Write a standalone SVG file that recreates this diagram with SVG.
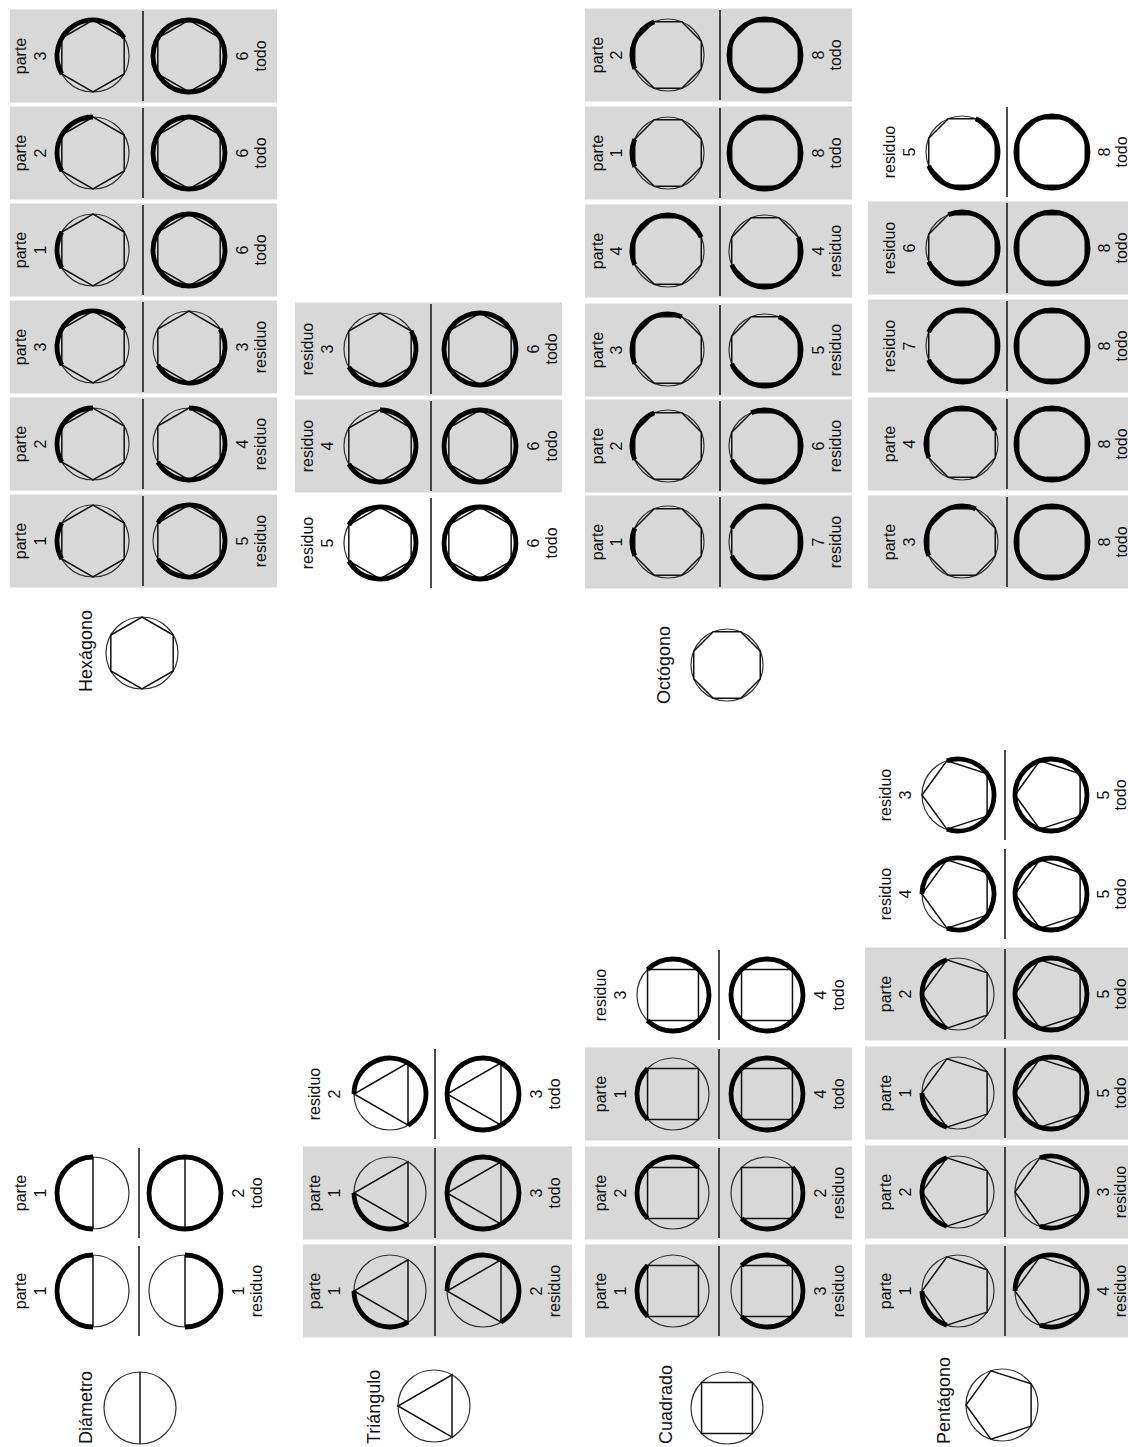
<svg xmlns="http://www.w3.org/2000/svg" xmlns:xlink="http://www.w3.org/1999/xlink" width="1128" height="1447" viewBox="0 0 1128 1447">
<defs>
<style>
.c{fill:none;stroke:#333;stroke-width:1.2}
.p{fill:none;stroke:#111;stroke-width:1.5}
.k{fill:none;stroke:#000;stroke-width:4.8}
.s{stroke:#111;stroke-width:1.5}
.g{fill:#d8d8d8}
.t{font-family:"Liberation Sans",Arial,sans-serif;font-size:16px;fill:#111;text-anchor:middle}
.r{font-family:"Liberation Sans",Arial,sans-serif;font-size:18px;fill:#111}
</style>
<circle id="ci" r="36" class="c"/>
<circle id="full" r="36" class="k"/>
<g id="bD"><use href="#ci"/><line class="p" x1="0" y1="-36" x2="0" y2="36"/></g>
<g id="bT"><use href="#ci"/><polygon class="p" points="18,31.177 -36,0 18,-31.177"/></g>
<g id="bC"><use href="#ci"/><polygon class="p" points="25.456,25.456 -25.456,25.456 -25.456,-25.456 25.456,-25.456"/></g>
<g id="bP"><use href="#ci"/><polygon class="p" points="29.124,21.16 -11.125,34.238 -36,0 -11.125,-34.238 29.124,-21.16"/></g>
<g id="bH"><use href="#ci"/><polygon class="p" points="31.177,18 0,36 -31.177,18 -31.177,-18 0,-36 31.177,-18"/></g>
<g id="bO"><use href="#ci"/><polygon class="p" points="33.26,13.776 13.776,33.26 -13.776,33.26 -33.26,13.776 -33.26,-13.776 -13.776,-33.26 13.776,-33.26 33.26,-13.776"/></g>
<path id="a45" class="k" d="M36 0A36 36 0 0 1 25.456 25.456"/>
<path id="a60" class="k" d="M36 0A36 36 0 0 1 18 31.177"/>
<path id="a72" class="k" d="M36 0A36 36 0 0 1 11.125 34.238"/>
<path id="a90" class="k" d="M36 0A36 36 0 0 1 0 36"/>
<path id="a120" class="k" d="M36 0A36 36 0 0 1 -18 31.177"/>
<path id="a135" class="k" d="M36 0A36 36 0 0 1 -25.456 25.456"/>
<path id="a144" class="k" d="M36 0A36 36 0 0 1 -29.124 21.16"/>
<path id="a180" class="k" d="M36 0A36 36 0 0 1 -36 0"/>
<path id="a216" class="k" d="M36 0A36 36 0 1 1 -29.124 -21.16"/>
<path id="a225" class="k" d="M36 0A36 36 0 1 1 -25.456 -25.456"/>
<path id="a240" class="k" d="M36 0A36 36 0 1 1 -18 -31.177"/>
<path id="a270" class="k" d="M36 0A36 36 0 1 1 0 -36"/>
<path id="a288" class="k" d="M36 0A36 36 0 1 1 11.125 -34.238"/>
<path id="a300" class="k" d="M36 0A36 36 0 1 1 18 -31.177"/>
<path id="a315" class="k" d="M36 0A36 36 0 1 1 25.456 -25.456"/>
</defs>
<rect width="1128" height="1447" fill="#fff"/>

<!-- Reference shapes -->
<g id="ref-diametro"><use href="#bD" x="140" y="1408"/><text class="r" transform="translate(92,1444) rotate(-90)">Diámetro</text></g>
<g id="ref-triangulo"><use href="#bT" x="434" y="1406"/><text class="r" transform="translate(380,1444) rotate(-90)">Triángulo</text></g>
<g id="ref-cuadrado"><use href="#bC" x="727" y="1408"/><text class="r" transform="translate(672,1444) rotate(-90)">Cuadrado</text></g>
<g id="ref-pentagono"><use href="#bP" x="1002" y="1405"/><text class="r" transform="translate(950,1444) rotate(-90)">Pentágono</text></g>
<g id="ref-hexagono"><use href="#bH" x="142" y="653"/><text class="r" transform="translate(92,692) rotate(-90)">Hexágono</text></g>
<g id="ref-octogono"><use href="#bO" x="727" y="665"/><text class="r" transform="translate(670,704) rotate(-90)">Octógono</text></g>

<!-- Diametro row -->
<g id="dia-1" transform="translate(0,1291)">
<use href="#bD" x="93"/><use href="#a180" transform="translate(93,0) rotate(90)"/>
<line class="s" x1="139" y1="-45" x2="139" y2="45"/>
<use href="#bD" x="185"/><use href="#a180" transform="translate(185,0) rotate(270)"/>
<text class="t" transform="translate(26,0) rotate(-90)">parte</text><text class="t" transform="translate(46,0) rotate(-90)">1</text>
<text class="t" transform="translate(244,0) rotate(-90)">1</text><text class="t" transform="translate(262,0) rotate(-90)">residuo</text>
</g>
<g id="dia-2" transform="translate(0,1193)">
<use href="#bD" x="93"/><use href="#a180" transform="translate(93,0) rotate(90)"/>
<line class="s" x1="139" y1="-45" x2="139" y2="45"/>
<use href="#bD" x="185"/><use href="#full" x="185"/>
<text class="t" transform="translate(26,0) rotate(-90)">parte</text><text class="t" transform="translate(46,0) rotate(-90)">1</text>
<text class="t" transform="translate(244,0) rotate(-90)">2</text><text class="t" transform="translate(262,0) rotate(-90)">todo</text>
</g>

<!-- Triangulo row -->
<g id="tri-1" transform="translate(0,1291)">
<rect class="g" x="303" y="-46.5" width="269" height="93"/>
<use href="#bT" x="390"/><use href="#a120" transform="translate(390,0) rotate(60)"/>
<line class="s" x1="435" y1="-45" x2="435" y2="45"/>
<use href="#bT" x="483"/><use href="#a240" transform="translate(483,0) rotate(180)"/>
<text class="t" transform="translate(320,0) rotate(-90)">parte</text><text class="t" transform="translate(340,0) rotate(-90)">1</text>
<text class="t" transform="translate(542,0) rotate(-90)">2</text><text class="t" transform="translate(560,0) rotate(-90)">residuo</text>
</g>
<g id="tri-2" transform="translate(0,1193)">
<rect class="g" x="303" y="-46.5" width="269" height="93"/>
<use href="#bT" x="390"/><use href="#a120" transform="translate(390,0) rotate(60)"/>
<line class="s" x1="435" y1="-45" x2="435" y2="45"/>
<use href="#bT" x="483"/><use href="#full" x="483"/>
<text class="t" transform="translate(320,0) rotate(-90)">parte</text><text class="t" transform="translate(340,0) rotate(-90)">1</text>
<text class="t" transform="translate(542,0) rotate(-90)">3</text><text class="t" transform="translate(560,0) rotate(-90)">todo</text>
</g>
<g id="tri-3" transform="translate(0,1094)">
<use href="#bT" x="390"/><use href="#a240" transform="translate(390,0) rotate(180)"/>
<line class="s" x1="435" y1="-45" x2="435" y2="45"/>
<use href="#bT" x="483"/><use href="#full" x="483"/>
<text class="t" transform="translate(320,0) rotate(-90)">residuo</text><text class="t" transform="translate(340,0) rotate(-90)">2</text>
<text class="t" transform="translate(542,0) rotate(-90)">3</text><text class="t" transform="translate(560,0) rotate(-90)">todo</text>
</g>

<!-- Cuadrado row -->
<g id="cua-1" transform="translate(0,1291)">
<rect class="g" x="585" y="-46.5" width="267" height="93"/>
<use href="#bC" x="673"/><use href="#a90" transform="translate(673,0) rotate(135)"/>
<line class="s" x1="719" y1="-45" x2="719" y2="45"/>
<use href="#bC" x="767"/><use href="#a270" transform="translate(767,0) rotate(225)"/>
<text class="t" transform="translate(606,0) rotate(-90)">parte</text><text class="t" transform="translate(626,0) rotate(-90)">1</text>
<text class="t" transform="translate(826,0) rotate(-90)">3</text><text class="t" transform="translate(844,0) rotate(-90)">residuo</text>
</g>
<g id="cua-2" transform="translate(0,1193)">
<rect class="g" x="585" y="-46.5" width="267" height="93"/>
<use href="#bC" x="673"/><use href="#a180" transform="translate(673,0) rotate(135)"/>
<line class="s" x1="719" y1="-45" x2="719" y2="45"/>
<use href="#bC" x="767"/><use href="#a180" transform="translate(767,0) rotate(315)"/>
<text class="t" transform="translate(606,0) rotate(-90)">parte</text><text class="t" transform="translate(626,0) rotate(-90)">2</text>
<text class="t" transform="translate(826,0) rotate(-90)">2</text><text class="t" transform="translate(844,0) rotate(-90)">residuo</text>
</g>
<g id="cua-3" transform="translate(0,1094)">
<rect class="g" x="585" y="-46.5" width="267" height="93"/>
<use href="#bC" x="673"/><use href="#a90" transform="translate(673,0) rotate(135)"/>
<line class="s" x1="719" y1="-45" x2="719" y2="45"/>
<use href="#bC" x="767"/><use href="#full" x="767"/>
<text class="t" transform="translate(606,0) rotate(-90)">parte</text><text class="t" transform="translate(626,0) rotate(-90)">1</text>
<text class="t" transform="translate(826,0) rotate(-90)">4</text><text class="t" transform="translate(844,0) rotate(-90)">todo</text>
</g>
<g id="cua-4" transform="translate(0,995)">
<use href="#bC" x="673"/><use href="#a270" transform="translate(673,0) rotate(225)"/>
<line class="s" x1="719" y1="-45" x2="719" y2="45"/>
<use href="#bC" x="767"/><use href="#full" x="767"/>
<text class="t" transform="translate(606,0) rotate(-90)">residuo</text><text class="t" transform="translate(626,0) rotate(-90)">3</text>
<text class="t" transform="translate(826,0) rotate(-90)">4</text><text class="t" transform="translate(844,0) rotate(-90)">todo</text>
</g>

<!-- Pentagono row -->
<g id="pen-1" transform="translate(0,1291)">
<rect class="g" x="865" y="-46.5" width="263" height="93"/>
<use href="#bP" x="958"/><use href="#a72" transform="translate(958,0) rotate(108)"/>
<line class="s" x1="1005" y1="-45" x2="1005" y2="45"/>
<use href="#bP" x="1051"/><use href="#a288" transform="translate(1051,0) rotate(180)"/>
<text class="t" transform="translate(891,0) rotate(-90)">parte</text><text class="t" transform="translate(911,0) rotate(-90)">1</text>
<text class="t" transform="translate(1109,0) rotate(-90)">4</text><text class="t" transform="translate(1126,0) rotate(-90)">residuo</text>
</g>
<g id="pen-2" transform="translate(0,1192)">
<rect class="g" x="865" y="-46.5" width="263" height="93"/>
<use href="#bP" x="958"/><use href="#a144" transform="translate(958,0) rotate(108)"/>
<line class="s" x1="1005" y1="-45" x2="1005" y2="45"/>
<use href="#bP" x="1051"/><use href="#a216" transform="translate(1051,0) rotate(252)"/>
<text class="t" transform="translate(891,0) rotate(-90)">parte</text><text class="t" transform="translate(911,0) rotate(-90)">2</text>
<text class="t" transform="translate(1109,0) rotate(-90)">3</text><text class="t" transform="translate(1126,0) rotate(-90)">residuo</text>
</g>
<g id="pen-3" transform="translate(0,1093)">
<rect class="g" x="865" y="-46.5" width="263" height="93"/>
<use href="#bP" x="958"/><use href="#a72" transform="translate(958,0) rotate(108)"/>
<line class="s" x1="1005" y1="-45" x2="1005" y2="45"/>
<use href="#bP" x="1051"/><use href="#full" x="1051"/>
<text class="t" transform="translate(891,0) rotate(-90)">parte</text><text class="t" transform="translate(911,0) rotate(-90)">1</text>
<text class="t" transform="translate(1109,0) rotate(-90)">5</text><text class="t" transform="translate(1126,0) rotate(-90)">todo</text>
</g>
<g id="pen-4" transform="translate(0,994)">
<rect class="g" x="865" y="-46.5" width="263" height="93"/>
<use href="#bP" x="958"/><use href="#a144" transform="translate(958,0) rotate(108)"/>
<line class="s" x1="1005" y1="-45" x2="1005" y2="45"/>
<use href="#bP" x="1051"/><use href="#full" x="1051"/>
<text class="t" transform="translate(891,0) rotate(-90)">parte</text><text class="t" transform="translate(911,0) rotate(-90)">2</text>
<text class="t" transform="translate(1109,0) rotate(-90)">5</text><text class="t" transform="translate(1126,0) rotate(-90)">todo</text>
</g>
<g id="pen-5" transform="translate(0,894)">
<use href="#bP" x="958"/><use href="#a288" transform="translate(958,0) rotate(180)"/>
<line class="s" x1="1005" y1="-45" x2="1005" y2="45"/>
<use href="#bP" x="1051"/><use href="#full" x="1051"/>
<text class="t" transform="translate(891,0) rotate(-90)">residuo</text><text class="t" transform="translate(911,0) rotate(-90)">4</text>
<text class="t" transform="translate(1109,0) rotate(-90)">5</text><text class="t" transform="translate(1126,0) rotate(-90)">todo</text>
</g>
<g id="pen-6" transform="translate(0,795)">
<use href="#bP" x="958"/><use href="#a216" transform="translate(958,0) rotate(252)"/>
<line class="s" x1="1005" y1="-45" x2="1005" y2="45"/>
<use href="#bP" x="1051"/><use href="#full" x="1051"/>
<text class="t" transform="translate(891,0) rotate(-90)">residuo</text><text class="t" transform="translate(911,0) rotate(-90)">3</text>
<text class="t" transform="translate(1109,0) rotate(-90)">5</text><text class="t" transform="translate(1126,0) rotate(-90)">todo</text>
</g>

<!-- Hexagono row 1 -->
<g id="hex-1" transform="translate(0,541)">
<rect class="g" x="10" y="-46.5" width="267" height="93"/>
<use href="#bH" x="93"/><use href="#a60" transform="translate(93,0) rotate(150)"/>
<line class="s" x1="143" y1="-45" x2="143" y2="45"/>
<use href="#bH" x="189"/><use href="#a300" transform="translate(189,0) rotate(210)"/>
<text class="t" transform="translate(26,0) rotate(-90)">parte</text><text class="t" transform="translate(46,0) rotate(-90)">1</text>
<text class="t" transform="translate(248,0) rotate(-90)">5</text><text class="t" transform="translate(266,0) rotate(-90)">residuo</text>
</g>
<g id="hex-2" transform="translate(0,444)">
<rect class="g" x="10" y="-46.5" width="267" height="93"/>
<use href="#bH" x="93"/><use href="#a120" transform="translate(93,0) rotate(150)"/>
<line class="s" x1="143" y1="-45" x2="143" y2="45"/>
<use href="#bH" x="189"/><use href="#a240" transform="translate(189,0) rotate(270)"/>
<text class="t" transform="translate(26,0) rotate(-90)">parte</text><text class="t" transform="translate(46,0) rotate(-90)">2</text>
<text class="t" transform="translate(248,0) rotate(-90)">4</text><text class="t" transform="translate(266,0) rotate(-90)">residuo</text>
</g>
<g id="hex-3" transform="translate(0,347)">
<rect class="g" x="10" y="-46.5" width="267" height="93"/>
<use href="#bH" x="93"/><use href="#a180" transform="translate(93,0) rotate(150)"/>
<line class="s" x1="143" y1="-45" x2="143" y2="45"/>
<use href="#bH" x="189"/><use href="#a180" transform="translate(189,0) rotate(330)"/>
<text class="t" transform="translate(26,0) rotate(-90)">parte</text><text class="t" transform="translate(46,0) rotate(-90)">3</text>
<text class="t" transform="translate(248,0) rotate(-90)">3</text><text class="t" transform="translate(266,0) rotate(-90)">residuo</text>
</g>
<g id="hex-4" transform="translate(0,250)">
<rect class="g" x="10" y="-46.5" width="267" height="93"/>
<use href="#bH" x="93"/><use href="#a60" transform="translate(93,0) rotate(150)"/>
<line class="s" x1="143" y1="-45" x2="143" y2="45"/>
<use href="#bH" x="189"/><use href="#full" x="189"/>
<text class="t" transform="translate(26,0) rotate(-90)">parte</text><text class="t" transform="translate(46,0) rotate(-90)">1</text>
<text class="t" transform="translate(248,0) rotate(-90)">6</text><text class="t" transform="translate(266,0) rotate(-90)">todo</text>
</g>
<g id="hex-5" transform="translate(0,153)">
<rect class="g" x="10" y="-46.5" width="267" height="93"/>
<use href="#bH" x="93"/><use href="#a120" transform="translate(93,0) rotate(150)"/>
<line class="s" x1="143" y1="-45" x2="143" y2="45"/>
<use href="#bH" x="189"/><use href="#full" x="189"/>
<text class="t" transform="translate(26,0) rotate(-90)">parte</text><text class="t" transform="translate(46,0) rotate(-90)">2</text>
<text class="t" transform="translate(248,0) rotate(-90)">6</text><text class="t" transform="translate(266,0) rotate(-90)">todo</text>
</g>
<g id="hex-6" transform="translate(0,56)">
<rect class="g" x="10" y="-46.5" width="267" height="93"/>
<use href="#bH" x="93"/><use href="#a180" transform="translate(93,0) rotate(150)"/>
<line class="s" x1="143" y1="-45" x2="143" y2="45"/>
<use href="#bH" x="189"/><use href="#full" x="189"/>
<text class="t" transform="translate(26,0) rotate(-90)">parte</text><text class="t" transform="translate(46,0) rotate(-90)">3</text>
<text class="t" transform="translate(248,0) rotate(-90)">6</text><text class="t" transform="translate(266,0) rotate(-90)">todo</text>
</g>

<!-- Hexagono row 2 -->
<g id="hex-7" transform="translate(0,543)">
<use href="#bH" x="380"/><use href="#a300" transform="translate(380,0) rotate(210)"/>
<line class="s" x1="431" y1="-45" x2="431" y2="45"/>
<use href="#bH" x="480"/><use href="#full" x="480"/>
<text class="t" transform="translate(313,0) rotate(-90)">residuo</text><text class="t" transform="translate(333,0) rotate(-90)">5</text>
<text class="t" transform="translate(539,0) rotate(-90)">6</text><text class="t" transform="translate(557,0) rotate(-90)">todo</text>
</g>
<g id="hex-8" transform="translate(0,446)">
<rect class="g" x="295" y="-46.5" width="267" height="93"/>
<use href="#bH" x="380"/><use href="#a240" transform="translate(380,0) rotate(270)"/>
<line class="s" x1="431" y1="-45" x2="431" y2="45"/>
<use href="#bH" x="480"/><use href="#full" x="480"/>
<text class="t" transform="translate(313,0) rotate(-90)">residuo</text><text class="t" transform="translate(333,0) rotate(-90)">4</text>
<text class="t" transform="translate(539,0) rotate(-90)">6</text><text class="t" transform="translate(557,0) rotate(-90)">todo</text>
</g>
<g id="hex-9" transform="translate(0,349)">
<rect class="g" x="295" y="-46.5" width="267" height="93"/>
<use href="#bH" x="380"/><use href="#a180" transform="translate(380,0) rotate(330)"/>
<line class="s" x1="431" y1="-45" x2="431" y2="45"/>
<use href="#bH" x="480"/><use href="#full" x="480"/>
<text class="t" transform="translate(313,0) rotate(-90)">residuo</text><text class="t" transform="translate(333,0) rotate(-90)">3</text>
<text class="t" transform="translate(539,0) rotate(-90)">6</text><text class="t" transform="translate(557,0) rotate(-90)">todo</text>
</g>

<!-- Octogono row 1 -->
<g id="oct-1" transform="translate(0,542)">
<rect class="g" x="585" y="-46.5" width="267" height="93"/>
<use href="#bO" x="668"/><use href="#a45" transform="translate(668,0) rotate(157.5)"/>
<line class="s" x1="720" y1="-45" x2="720" y2="45"/>
<use href="#bO" x="765"/><use href="#a315" transform="translate(765,0) rotate(202.5)"/>
<text class="t" transform="translate(603,0) rotate(-90)">parte</text><text class="t" transform="translate(622,0) rotate(-90)">1</text>
<text class="t" transform="translate(824,0) rotate(-90)">7</text><text class="t" transform="translate(841,0) rotate(-90)">residuo</text>
</g>
<g id="oct-2" transform="translate(0,446)">
<rect class="g" x="585" y="-46.5" width="267" height="93"/>
<use href="#bO" x="668"/><use href="#a90" transform="translate(668,0) rotate(157.5)"/>
<line class="s" x1="720" y1="-45" x2="720" y2="45"/>
<use href="#bO" x="765"/><use href="#a270" transform="translate(765,0) rotate(247.5)"/>
<text class="t" transform="translate(603,0) rotate(-90)">parte</text><text class="t" transform="translate(622,0) rotate(-90)">2</text>
<text class="t" transform="translate(824,0) rotate(-90)">6</text><text class="t" transform="translate(841,0) rotate(-90)">residuo</text>
</g>
<g id="oct-3" transform="translate(0,350)">
<rect class="g" x="585" y="-46.5" width="267" height="93"/>
<use href="#bO" x="668"/><use href="#a135" transform="translate(668,0) rotate(157.5)"/>
<line class="s" x1="720" y1="-45" x2="720" y2="45"/>
<use href="#bO" x="765"/><use href="#a225" transform="translate(765,0) rotate(292.5)"/>
<text class="t" transform="translate(603,0) rotate(-90)">parte</text><text class="t" transform="translate(622,0) rotate(-90)">3</text>
<text class="t" transform="translate(824,0) rotate(-90)">5</text><text class="t" transform="translate(841,0) rotate(-90)">residuo</text>
</g>
<g id="oct-4" transform="translate(0,251)">
<rect class="g" x="585" y="-46.5" width="267" height="93"/>
<use href="#bO" x="668"/><use href="#a180" transform="translate(668,0) rotate(157.5)"/>
<line class="s" x1="720" y1="-45" x2="720" y2="45"/>
<use href="#bO" x="765"/><use href="#a180" transform="translate(765,0) rotate(337.5)"/>
<text class="t" transform="translate(603,0) rotate(-90)">parte</text><text class="t" transform="translate(622,0) rotate(-90)">4</text>
<text class="t" transform="translate(824,0) rotate(-90)">4</text><text class="t" transform="translate(841,0) rotate(-90)">residuo</text>
</g>
<g id="oct-5" transform="translate(0,153)">
<rect class="g" x="585" y="-46.5" width="267" height="93"/>
<use href="#bO" x="668"/><use href="#a45" transform="translate(668,0) rotate(157.5)"/>
<line class="s" x1="720" y1="-45" x2="720" y2="45"/>
<use href="#bO" x="765"/><use href="#full" x="765"/>
<text class="t" transform="translate(603,0) rotate(-90)">parte</text><text class="t" transform="translate(622,0) rotate(-90)">1</text>
<text class="t" transform="translate(824,0) rotate(-90)">8</text><text class="t" transform="translate(841,0) rotate(-90)">todo</text>
</g>
<g id="oct-6" transform="translate(0,55)">
<rect class="g" x="585" y="-46.5" width="267" height="93"/>
<use href="#bO" x="668"/><use href="#a90" transform="translate(668,0) rotate(157.5)"/>
<line class="s" x1="720" y1="-45" x2="720" y2="45"/>
<use href="#bO" x="765"/><use href="#full" x="765"/>
<text class="t" transform="translate(603,0) rotate(-90)">parte</text><text class="t" transform="translate(622,0) rotate(-90)">2</text>
<text class="t" transform="translate(824,0) rotate(-90)">8</text><text class="t" transform="translate(841,0) rotate(-90)">todo</text>
</g>

<!-- Octogono row 2 -->
<g id="oct-7" transform="translate(0,542)">
<rect class="g" x="868" y="-46.5" width="260" height="93"/>
<use href="#bO" x="962"/><use href="#a135" transform="translate(962,0) rotate(157.5)"/>
<line class="s" x1="1007" y1="-45" x2="1007" y2="45"/>
<use href="#bO" x="1052"/><use href="#full" x="1052"/>
<text class="t" transform="translate(895,0) rotate(-90)">parte</text><text class="t" transform="translate(915,0) rotate(-90)">3</text>
<text class="t" transform="translate(1110,0) rotate(-90)">8</text><text class="t" transform="translate(1127,0) rotate(-90)">todo</text>
</g>
<g id="oct-8" transform="translate(0,444)">
<rect class="g" x="868" y="-46.5" width="260" height="93"/>
<use href="#bO" x="962"/><use href="#a180" transform="translate(962,0) rotate(157.5)"/>
<line class="s" x1="1007" y1="-45" x2="1007" y2="45"/>
<use href="#bO" x="1052"/><use href="#full" x="1052"/>
<text class="t" transform="translate(895,0) rotate(-90)">parte</text><text class="t" transform="translate(915,0) rotate(-90)">4</text>
<text class="t" transform="translate(1110,0) rotate(-90)">8</text><text class="t" transform="translate(1127,0) rotate(-90)">todo</text>
</g>
<g id="oct-9" transform="translate(0,346)">
<rect class="g" x="868" y="-46.5" width="260" height="93"/>
<use href="#bO" x="962"/><use href="#a315" transform="translate(962,0) rotate(202.5)"/>
<line class="s" x1="1007" y1="-45" x2="1007" y2="45"/>
<use href="#bO" x="1052"/><use href="#full" x="1052"/>
<text class="t" transform="translate(895,0) rotate(-90)">residuo</text><text class="t" transform="translate(915,0) rotate(-90)">7</text>
<text class="t" transform="translate(1110,0) rotate(-90)">8</text><text class="t" transform="translate(1127,0) rotate(-90)">todo</text>
</g>
<g id="oct-10" transform="translate(0,248)">
<rect class="g" x="868" y="-46.5" width="260" height="93"/>
<use href="#bO" x="962"/><use href="#a270" transform="translate(962,0) rotate(247.5)"/>
<line class="s" x1="1007" y1="-45" x2="1007" y2="45"/>
<use href="#bO" x="1052"/><use href="#full" x="1052"/>
<text class="t" transform="translate(895,0) rotate(-90)">residuo</text><text class="t" transform="translate(915,0) rotate(-90)">6</text>
<text class="t" transform="translate(1110,0) rotate(-90)">8</text><text class="t" transform="translate(1127,0) rotate(-90)">todo</text>
</g>
<g id="oct-11" transform="translate(0,152)">
<use href="#bO" x="962"/><use href="#a225" transform="translate(962,0) rotate(292.5)"/>
<line class="s" x1="1007" y1="-45" x2="1007" y2="45"/>
<use href="#bO" x="1052"/><use href="#full" x="1052"/>
<text class="t" transform="translate(895,0) rotate(-90)">residuo</text><text class="t" transform="translate(915,0) rotate(-90)">5</text>
<text class="t" transform="translate(1110,0) rotate(-90)">8</text><text class="t" transform="translate(1127,0) rotate(-90)">todo</text>
</g>
</svg>
